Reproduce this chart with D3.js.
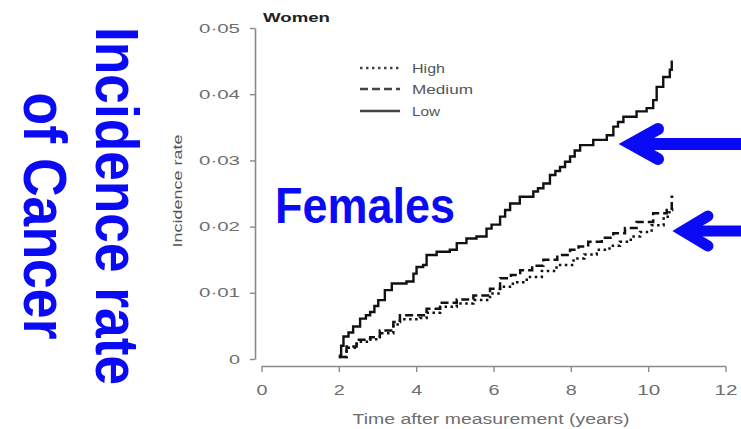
<!DOCTYPE html>
<html>
<head>
<meta charset="utf-8">
<script src="https://cdn.jsdelivr.net/npm/d3@7"></script>
<style>
  body { margin: 0; background: #fff; }
  svg { display: block; font-family: "Liberation Sans", Arial, sans-serif; }
</style>
</head>
<body>
<div id="chart"></div>
<script>
// data
var xTicks = [0, 2, 4, 6, 8, 10, 12];
var yTicks = [0, 0.01, 0.02, 0.03, 0.04, 0.05];
var yTickLabels = ["0", "0·01", "0·02", "0·03", "0·04", "0·05"];
var seriesNames = ["High", "Medium", "Low"];

var lowT = [2.0, 2.06, 2.12, 2.25, 2.37, 2.55, 2.70, 2.81, 2.92, 3.02, 3.19, 3.37, 3.75, 3.93, 4.01, 4.18, 4.27, 4.53, 4.87, 5.05, 5.30, 5.56, 5.82, 5.95, 6.17, 6.30, 6.43, 6.68, 7.03, 7.15, 7.29, 7.46, 7.60, 7.72, 7.85, 7.98, 8.10, 8.24, 8.58, 8.93, 9.10, 9.22, 9.36, 9.70, 9.96, 10.13, 10.22, 10.39, 10.56, 10.61, 10.64];
var lowV = [0.0005, 0.0020, 0.0034, 0.0040, 0.0049, 0.0061, 0.0066, 0.0071, 0.0080, 0.0089, 0.0104, 0.0114, 0.0117, 0.0129, 0.0139, 0.0142, 0.0157, 0.0162, 0.0165, 0.0175, 0.0182, 0.0185, 0.0197, 0.0203, 0.0215, 0.0225, 0.0235, 0.0245, 0.0253, 0.0258, 0.0265, 0.0278, 0.0284, 0.0290, 0.0298, 0.0306, 0.0315, 0.0323, 0.0331, 0.0338, 0.0351, 0.0358, 0.0366, 0.0374, 0.0379, 0.0391, 0.0411, 0.0426, 0.0437, 0.0449, 0.0449];

var medT = [2.0, 2.2, 2.46, 2.81, 3.06, 3.41, 3.58, 4.10, 4.27, 4.62, 5.05, 5.48, 5.91, 6.17, 6.45, 6.69, 7.0, 7.29, 7.65, 7.98, 8.2, 8.45, 8.8, 9.10, 9.4, 9.70, 10.13, 10.48, 10.61, 10.65];
var medV = [0.0003, 0.0019, 0.0029, 0.0033, 0.0043, 0.0056, 0.0066, 0.0066, 0.0076, 0.0085, 0.0090, 0.0096, 0.0106, 0.0122, 0.0127, 0.0134, 0.0141, 0.0150, 0.0157, 0.0165, 0.0170, 0.0177, 0.0183, 0.0190, 0.0198, 0.0207, 0.0220, 0.0225, 0.0245, 0.0245];

var highT = [2.0, 2.2, 2.46, 2.81, 3.06, 3.41, 3.58, 4.10, 4.27, 4.62, 5.05, 5.48, 5.91, 6.17, 6.5, 6.86, 7.25, 7.63, 8.07, 8.35, 8.67, 9.0, 9.27, 9.55, 9.79, 10.09, 10.40, 10.55, 10.62];
var highV = [0.0003, 0.0017, 0.0026, 0.0030, 0.0039, 0.0052, 0.0060, 0.0062, 0.0070, 0.0079, 0.0084, 0.0089, 0.0099, 0.0109, 0.0116, 0.0124, 0.0133, 0.0142, 0.0152, 0.0158, 0.0165, 0.0171, 0.0177, 0.0185, 0.0192, 0.0202, 0.0215, 0.0225, 0.0230];

var width = 741, height = 429;
var svg = d3.select("#chart").append("svg")
    .attr("width", width)
    .attr("height", height);

svg.append("rect").attr("width", width).attr("height", height).attr("fill", "#fff");

var x = d3.scaleLinear().domain([0, 12]).range([261.5, 725.5]);
var y = d3.scaleLinear().domain([0, 0.05]).range([359, 28]);

var axisGrey = "#8a8a8a";
var textGrey = "#6e6e6e";

// y axis
var gy = svg.append("g")
    .attr("transform", "translate(255,0)")
    .call(d3.axisLeft(y).tickValues(yTicks).tickSize(5).tickSizeOuter(0).tickPadding(10)
        .tickFormat(function(d, i){ return yTickLabels[i]; }));
gy.select(".domain").attr("stroke", axisGrey).attr("stroke-width", 1.6);
gy.selectAll(".tick line").attr("stroke", axisGrey).attr("stroke-width", 1.4);
gy.selectAll(".tick text")
    .attr("fill", textGrey)
    .attr("font-size", "13px")
    .attr("font-family", "Liberation Sans, Arial, sans-serif")
    .attr("textLength", function(d, i){ return i == 0 ? 11 : 41; })
    .attr("lengthAdjust", "spacingAndGlyphs");

// x axis
var gx = svg.append("g")
    .attr("transform", "translate(0,366)")
    .call(d3.axisBottom(x).tickValues(xTicks).tickSize(6).tickSizeOuter(0).tickPadding(12));
gx.select(".domain").attr("stroke", axisGrey).attr("stroke-width", 1.6);
gx.selectAll(".tick line").attr("stroke", axisGrey).attr("stroke-width", 1.4);
gx.selectAll(".tick text")
    .attr("fill", textGrey)
    .attr("font-size", "15px")
    .attr("font-family", "Liberation Sans, Arial, sans-serif")
    .attr("textLength", function(d){ return d >= 10 ? 23 : 11; })
    .attr("lengthAdjust", "spacingAndGlyphs");

svg.append("text")
    .text("Time after measurement (years)")
    .attr("x", 491)
    .attr("y", 424)
    .attr("text-anchor", "middle")
    .attr("font-size", "14px")
    .attr("fill", textGrey)
    .attr("textLength", 277)
    .attr("lengthAdjust", "spacingAndGlyphs");

svg.append("text")
    .text("Incidence rate")
    .attr("transform", "translate(182,191) rotate(-90)")
    .attr("text-anchor", "middle")
    .attr("font-size", "13px")
    .attr("fill", "#555")
    .attr("textLength", 113)
    .attr("lengthAdjust", "spacingAndGlyphs");

svg.append("text")
    .text("Women")
    .attr("x", 263)
    .attr("y", 22)
    .attr("font-size", "13px")
    .attr("font-weight", "bold")
    .attr("fill", "#222")
    .attr("textLength", 67)
    .attr("lengthAdjust", "spacingAndGlyphs");

// curves
var line = d3.line()
    .x(function(d){ return x(d[0]); })
    .y(function(d){ return y(d[1]); })
    .curve(d3.curveStepAfter);

var series = [
  { name: "High", data: d3.zip(highT, highV), dash: "2.5,3.5", w: 2.5 },
  { name: "Medium", data: d3.zip(medT, medV), dash: "8,4", w: 2.5 },
  { name: "Low", data: d3.zip(lowT, lowV), dash: null, w: 2.4 }
];

svg.selectAll("path.curve")
    .data(series)
    .enter()
    .append("path")
    .attr("class", "curve")
    .attr("d", function(d){ return line(d.data); })
    .attr("fill", "none")
    .attr("stroke", "#111")
    .attr("stroke-width", function(d){ return d.w; })
    .attr("stroke-dasharray", function(d){ return d.dash; });

// legend
var legendY = [68, 89, 111];
var legendLen = [33, 61, 28];
var lg = svg.selectAll("g.legend")
    .data(series)
    .enter()
    .append("g")
    .attr("class", "legend")
    .attr("transform", function(d, i){ return "translate(360," + legendY[i] + ")"; });
lg.append("line")
    .attr("x1", 0).attr("x2", 40)
    .attr("stroke", "#444")
    .attr("stroke-width", 2.4)
    .attr("stroke-dasharray", function(d){ return d.dash; });
lg.append("text")
    .text(function(d, i){ return seriesNames[i]; })
    .attr("x", 52)
    .attr("y", 4.5)
    .attr("font-size", "12px")
    .attr("fill", "#555")
    .attr("textLength", function(d, i){ return legendLen[i]; })
    .attr("lengthAdjust", "spacingAndGlyphs");

// blue slide annotations
var blue = "#0a0af5";
svg.append("text")
    .text("Incidence rate")
    .attr("transform", "translate(96,206) rotate(90)")
    .attr("text-anchor", "middle")
    .attr("font-size", "61px")
    .attr("font-weight", "bold")
    .attr("fill", blue)
    .attr("textLength", 358)
    .attr("lengthAdjust", "spacingAndGlyphs");
svg.append("text")
    .text("of Cancer")
    .attr("transform", "translate(24,216) rotate(90)")
    .attr("text-anchor", "middle")
    .attr("font-size", "61px")
    .attr("font-weight", "bold")
    .attr("fill", blue)
    .attr("textLength", 247)
    .attr("lengthAdjust", "spacingAndGlyphs");
svg.append("text")
    .text("Females")
    .attr("x", 275)
    .attr("y", 223)
    .attr("font-size", "50px")
    .attr("font-weight", "bold")
    .attr("fill", blue)
    .attr("textLength", 180)
    .attr("lengthAdjust", "spacingAndGlyphs");

function arrow(vx, vy, wingDx, wingDy, w) {
  svg.append("path")
      .attr("d", "M" + vx + "," + vy + "L" + width + "," + vy)
      .attr("stroke", blue).attr("stroke-width", w).attr("fill", "none");
  svg.append("path")
      .attr("d", "M" + (vx + wingDx) + "," + (vy - wingDy) + "L" + vx + "," + vy + "L" + (vx + wingDx) + "," + (vy + wingDy))
      .attr("stroke", blue).attr("stroke-width", w).attr("fill", "none")
      .attr("stroke-linecap", "round").attr("stroke-linejoin", "miter");
}
arrow(631, 144, 27, 15, 12);
arrow(683, 231, 25, 15, 11);
</script>
</body>
</html>
